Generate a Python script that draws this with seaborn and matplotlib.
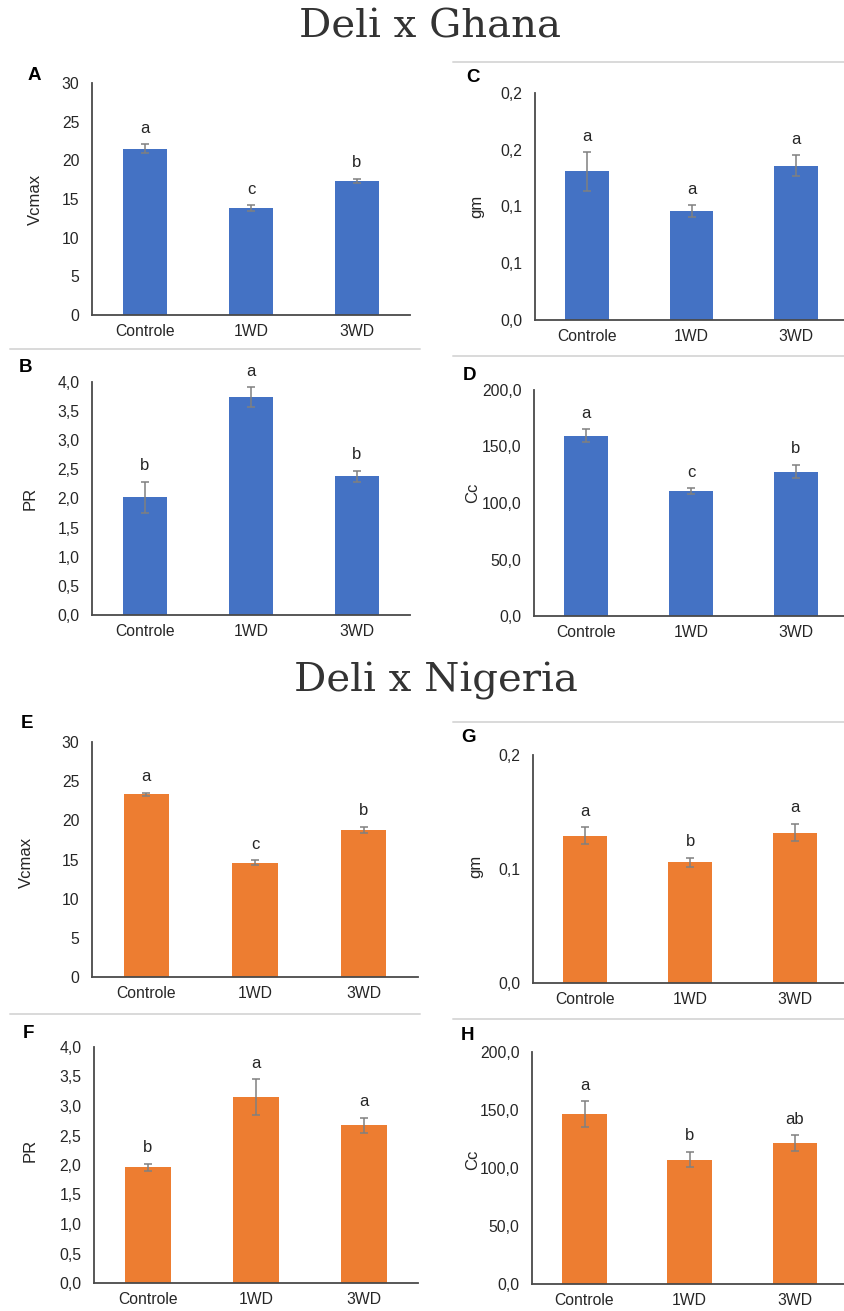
import math
import matplotlib
matplotlib.use("Agg")
import matplotlib.pyplot as plt
from matplotlib.lines import Line2D
from matplotlib.ticker import FixedLocator, FuncFormatter
import numpy as np
import pandas as pd
import seaborn as sns

# ---- data -------------------------------------------------------------
treatments = ["Controle", "1WD", "3WD"]

ghana_vcmax = [21.5, 13.8, 17.35]
ghana_vcmax_se = [0.6, 0.4, 0.3]
ghana_vcmax_grp = ["a", "c", "b"]

ghana_pr = [2.02, 3.74, 2.38]
ghana_pr_se = [0.27, 0.17, 0.10]
ghana_pr_grp = ["b", "a", "b"]

ghana_gm = [0.131, 0.096, 0.136]
ghana_gm_se = [0.017, 0.005, 0.009]
ghana_gm_grp = ["a", "a", "a"]

ghana_cc = [159.6, 110.6, 127.7]
ghana_cc_se = [5.6, 2.3, 6.0]
ghana_cc_grp = ["a", "c", "b"]

nigeria_vcmax = [23.3, 14.6, 18.8]
nigeria_vcmax_se = [0.25, 0.3, 0.4]
nigeria_vcmax_grp = ["a", "c", "b"]

nigeria_pr = [1.96, 3.15, 2.67]
nigeria_pr_se = [0.06, 0.30, 0.13]
nigeria_pr_grp = ["b", "a", "a"]

nigeria_gm = [0.129, 0.106, 0.132]
nigeria_gm_se = [0.0075, 0.004, 0.0075]
nigeria_gm_grp = ["a", "b", "a"]

nigeria_cc = [146.5, 107.3, 121.7]
nigeria_cc_se = [11.0, 6.7, 6.7]
nigeria_cc_grp = ["a", "b", "ab"]

BLUE = "#4472C4"
ORANGE = "#ED7D31"
ERR = "#808080"
SPINE = "#4a4a4a"
TXT = "#262626"

W, H = 845, 1311
sns.set_theme(style="white")
plt.rcParams["font.family"] = ["Liberation Sans", "DejaVu Sans"]

fig = plt.figure(figsize=(W / 100, H / 100), dpi=100)
fig.patch.set_facecolor("white")


def px_axes(left, right, top, bottom):
    return fig.add_axes([left / W, 1 - bottom / H, (right - left) / W, (bottom - top) / H])


def comma_fmt(decimals):
    def f(v, _pos):
        if decimals == 0:
            return f"{int(round(v))}"
        scale = 10 ** decimals
        r = math.floor(v * scale + 0.5 + 1e-9) / scale
        return f"{r:.{decimals}f}".replace(".", ",")
    return FuncFormatter(f)


def panel(box, xmax, vals, errs, groups, color, yticks, decimals, ylabel,
          ylabel_x, ylabel_y, letter, letter_xy):
    ax = px_axes(*box)
    df = pd.DataFrame({"Tratamento": treatments, "valor": vals})
    sns.barplot(data=df, x="Tratamento", y="valor", color=color, width=0.42,
                errorbar=None, saturation=1.0, edgecolor="none", ax=ax)
    xs = np.arange(len(treatments))
    ax.errorbar(xs, vals, yerr=errs, fmt="none", ecolor=ERR, elinewidth=1.1,
                capsize=3.2, capthick=1.1, zorder=5)
    for x, v, e, g in zip(xs, vals, errs, groups):
        ax.annotate(g, (x, v + e), xytext=(0, 11.5), textcoords="offset points",
                    ha="center", va="center", fontsize=12, color=TXT)
    ax.set_xlim(-0.5, xmax)
    ax.set_ylim(yticks[0], yticks[-1])
    ax.yaxis.set_major_locator(FixedLocator(yticks))
    ax.yaxis.set_major_formatter(comma_fmt(decimals))
    ax.set_xlabel("")
    ax.set_ylabel(ylabel, fontsize=12, color=TXT)
    ax.yaxis.label.set_verticalalignment("center")
    ax.yaxis.set_label_coords(ylabel_x / W, 1 - ylabel_y / H, transform=fig.transFigure)
    ax.tick_params(axis="both", length=0, labelsize=11.3, labelcolor=TXT)
    ax.tick_params(axis="y", pad=9)
    ax.tick_params(axis="x", pad=6.5)
    for s in ("top", "right"):
        ax.spines[s].set_visible(False)
    for s in ("left", "bottom"):
        ax.spines[s].set_color(SPINE)
        ax.spines[s].set_linewidth(1.3)
    ax.set_facecolor("white")
    ax.grid(False)
    fig.text(letter_xy[0] / W, 1 - letter_xy[1] / H, letter, ha="center", va="center",
             fontsize=13.5, fontweight="bold", color="black")
    return ax


vc_ticks = [0, 5, 10, 15, 20, 25, 30]
pr_ticks = [0, 0.5, 1.0, 1.5, 2.0, 2.5, 3.0, 3.5, 4.0]
gm_ticks_fine = [0, 0.05, 0.10, 0.15, 0.20]
gm_ticks = [0, 0.1, 0.2]
cc_ticks = [0, 50, 100, 150, 200]

# Deli x Ghana
panel((92, 410, 83, 315), 2.5, ghana_vcmax, ghana_vcmax_se, ghana_vcmax_grp, BLUE,
      vc_ticks, 0, "Vcmax", 35, 199, "A", (34, 75))
panel((92, 410, 382, 615), 2.5, ghana_pr, ghana_pr_se, ghana_pr_grp, BLUE,
      pr_ticks, 1, "PR", 30, 498, "B", (26, 367))
panel((535, 845, 93, 320), 2.47, ghana_gm, ghana_gm_se, ghana_gm_grp, BLUE,
      gm_ticks_fine, 1, "gm", 477, 206, "C", (473, 78))
panel((534, 845, 390, 616), 2.47, ghana_cc, ghana_cc_se, ghana_cc_grp, BLUE,
      cc_ticks, 1, "Cc", 473, 493, "D", (470, 375))

# Deli x Nigeria
panel((92, 418, 742, 977), 2.5, nigeria_vcmax, nigeria_vcmax_se, nigeria_vcmax_grp, ORANGE,
      vc_ticks, 0, "Vcmax", 26, 862, "E", (27, 723))
panel((94, 418, 1047, 1283), 2.5, nigeria_pr, nigeria_pr_se, nigeria_pr_grp, ORANGE,
      pr_ticks, 1, "PR", 30, 1150, "F", (28, 1033))
panel((533, 845, 755, 983), 2.48, nigeria_gm, nigeria_gm_se, nigeria_gm_grp, ORANGE,
      gm_ticks, 1, "gm", 476, 866, "G", (469, 738))
panel((532, 845, 1052, 1284), 2.48, nigeria_cc, nigeria_cc_se, nigeria_cc_grp, ORANGE,
      cc_ticks, 1, "Cc", 473, 1160, "H", (468, 1036))

# group titles
fig.text(430 / W, 1 - 37 / H, "Deli x Ghana", ha="center", va="baseline",
         fontsize=29, family="DejaVu Serif", color="#333333")
fig.text(436 / W, 1 - 692 / H, "Deli x Nigeria", ha="center", va="baseline",
         fontsize=29, family="DejaVu Serif", color="#333333")

# light separator rules between the chart blocks
for (x0, x1, y) in [(453, 845, 62), (10, 420, 349), (453, 845, 356),
                    (453, 845, 722), (10, 420, 1014), (453, 845, 1019)]:
    fig.add_artist(Line2D([x0 / W, x1 / W], [1 - y / H, 1 - y / H],
                          transform=fig.transFigure, color="#d9d9d9", linewidth=1.4))

fig.savefig("out.png", dpi=100, facecolor="white")
